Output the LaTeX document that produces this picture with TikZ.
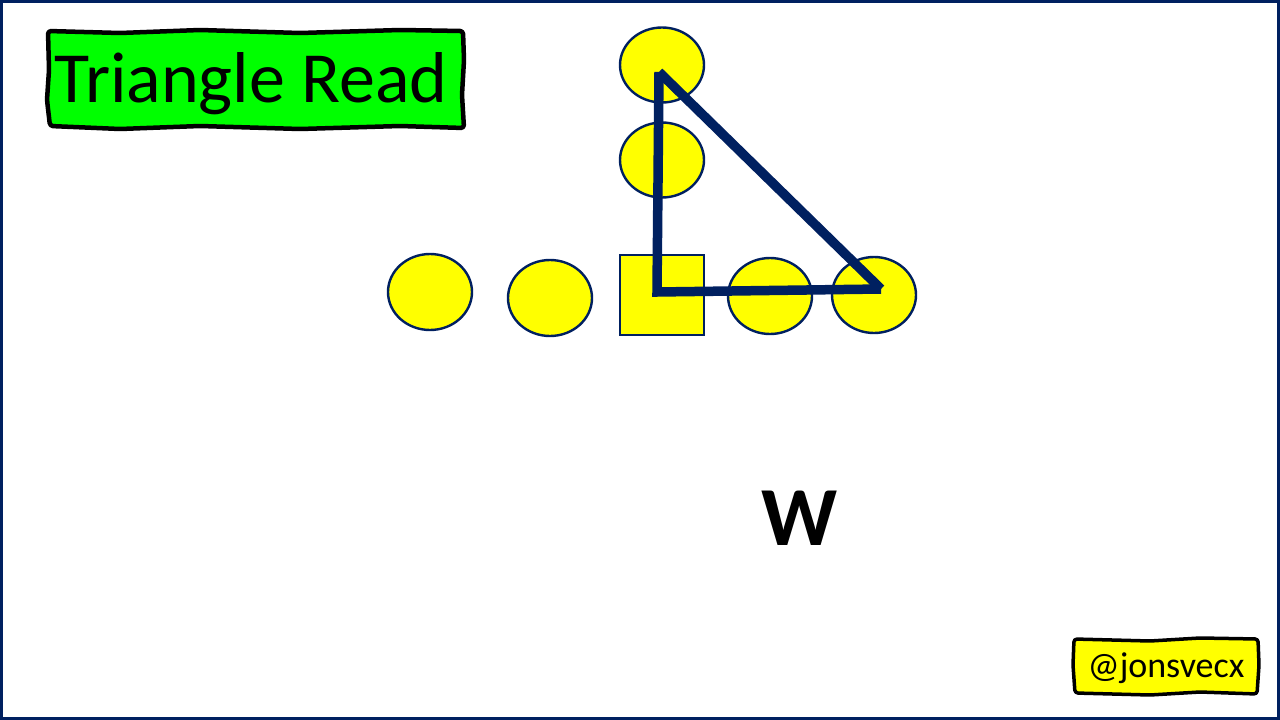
\documentclass[tikz,border=0pt]{standalone}
\usepackage{fontspec}
\setmainfont{Carlito}
\usetikzlibrary{shapes.geometric}
\definecolor{navy}{HTML}{002060}
\definecolor{ylw}{HTML}{FFFF00}
\definecolor{grn}{HTML}{00FF00}
\tikzset{
  player/.style={ellipse, draw=navy, fill=ylw, line width=2.4pt, minimum width=84pt, minimum height=76pt, inner sep=0pt},
  center/.style={rectangle, draw=navy, fill=ylw, line width=2.4pt, minimum width=84pt, minimum height=80pt, inner sep=0pt},
  route/.style={draw=navy, line width=9.5pt},
  tag/.style={draw=black, line width=4.5pt, rounded corners=3pt, line join=round}
}
\begin{document}
\begin{tikzpicture}[x=1pt,y=-1pt]
\useasboundingbox (0,0) rectangle (1280,720);
\fill[white] (0,0) rectangle (1280,720);
\draw[navy, line width=3pt] (1.5,1.5) rectangle (1278.5,718.5);
% title
\path[tag, fill=grn] (48,31) -- (120,33) -- (200,30) -- (300,33) -- (400,30) -- (463,31) -- (464,60) -- (462,95) -- (464,128) -- (400,126) -- (300,129) -- (200,126) -- (120,129) -- (50,126) -- (47,100) -- (49,70) -- cycle;
\node[anchor=base, inner sep=0pt, font=\fontsize{72}{72}\selectfont] (title) at (251,102) {Triangle Read};
% players
\node[player] (lt) at (430,292) {};
\node[player] (lg) at (550,298) {};
\node[center] (c) at (662,295) {};
\node[player] (rg) at (770,296) {};
\node[player, minimum height=76pt] (rt) at (874,295) {};
\node[player, minimum height=75pt] (wr) at (662,65) {};
\node[player, minimum height=75pt] (te) at (662,160) {};
% triangle read
\coordinate (tt) at (659,72);
\coordinate (tc) at (657,292);
\coordinate (tr) at (881,289);
\draw[route, line join=miter] (tt) -- (tc) -- (tr);
\draw[route] (tt) -- (tr);
% W
\node[anchor=base, inner sep=0pt, font=\fontsize{84}{84}\selectfont\bfseries] (w) at (800,545) {W};
% handle
\path[tag, line width=3.5pt, fill=ylw] (1074,639) -- (1150,641) -- (1200,638) -- (1258,639) -- (1259,665) -- (1257,694) -- (1200,692) -- (1150,695) -- (1075,693) -- (1073,665) -- cycle;
\node[anchor=base, inner sep=0pt, font=\fontsize{36}{36}\selectfont] (handle) at (1166,677) {@jonsvecx};
\end{tikzpicture}
\end{document}
